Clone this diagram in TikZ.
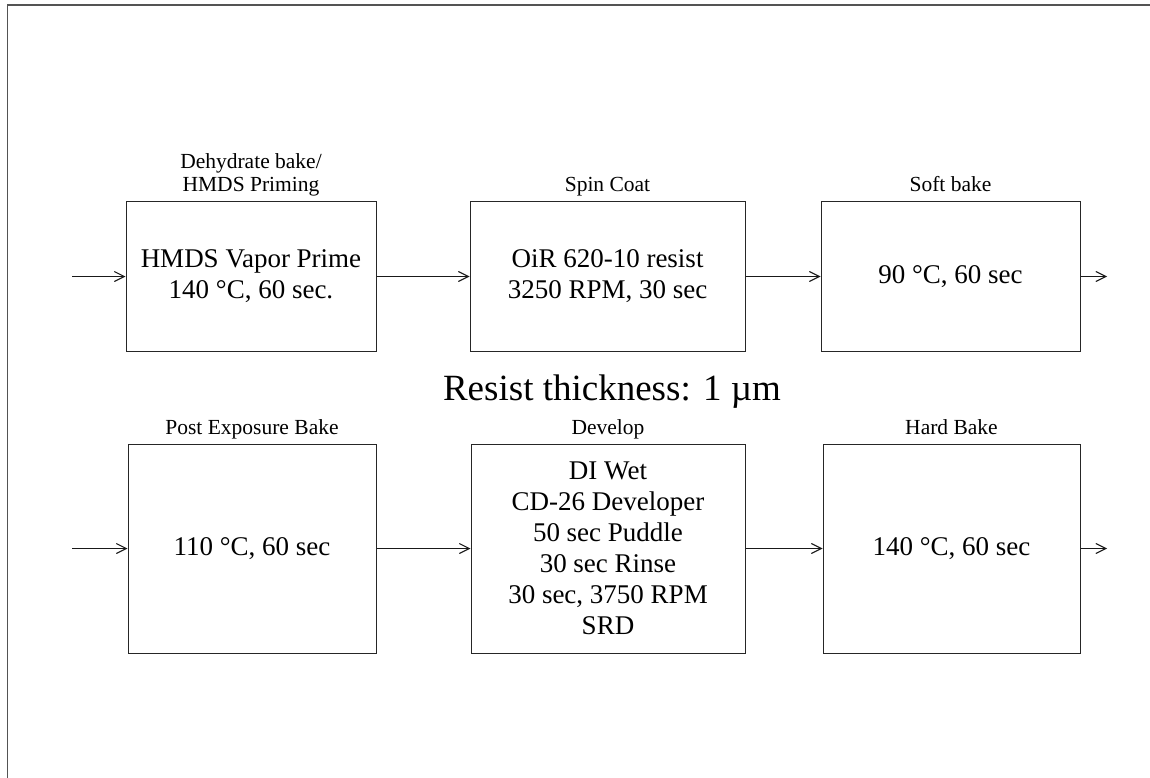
\documentclass[tikz,border=0pt]{standalone}
\usepackage{fontspec}
\setmainfont{Liberation Serif}
\usetikzlibrary{arrows.meta}
\tikzset{
  procbox/.style={draw=black!85, line width=1pt, inner sep=0pt, align=center,
    font=\fontsize{27}{31}\selectfont},
  toprow/.style={procbox, minimum height=150pt},
  botrow/.style={procbox, minimum height=209pt},
  steplabel/.style={inner sep=0pt, anchor=base, font=\fontsize{21.5}{23.5}\selectfont},
  flow/.style={draw=black!90, line width=1.05pt, -{Straight Barb[length=10pt,width=10pt,line width=1.05pt]}},
  framestyle/.style={draw=black!67, line width=1.4pt},
}
\begin{document}
\begin{tikzpicture}[x=1pt,y=-1pt]
\useasboundingbox (0,0) rectangle (1150,778);
% frame (only top and left edges visible)
\draw[framestyle] (7.5,778) -- (7.5,5) -- (1150,5);

% top row
\node[toprow, minimum width=250pt] (b1) at (251,276.5) {HMDS Vapor Prime\\140 °C, 60 sec.};
\node[toprow, minimum width=275pt] (b2) at (607.5,276.5) {OiR 620-10 resist\\3250 RPM, 30 sec};
\node[toprow, minimum width=259pt] (b3) at (950.5,276.5) {90 °C, 60 sec};

\node[steplabel, anchor=south, align=center] (l1) at (251,196.5) {Dehydrate bake/\\HMDS Priming};
\node[steplabel] (l2) at (607.5,191.5) {Spin Coat};
\node[steplabel] (l3) at (950.5,191.5) {Soft bake};

% middle text
\node[inner sep=0pt, anchor=base, font=\fontsize{37}{40}\selectfont] (thick) at (612,400) {Resist thickness: 1 µm};

% bottom row
\node[botrow, minimum width=248pt] (b4) at (252,548.5) {110 °C, 60 sec};
\node[botrow, minimum width=274pt] (b5) at (608,548.5) {DI Wet\\CD-26 Developer\\50 sec Puddle\\30 sec Rinse\\30 sec, 3750 RPM\\SRD};
\node[botrow, minimum width=257pt] (b6) at (951.5,548.5) {140 °C, 60 sec};

\node[steplabel] (l4) at (252,434.5) {Post Exposure Bake};
\node[steplabel] (l5) at (608,434.5) {Develop};
\node[steplabel] (l6) at (951.5,434.5) {Hard Bake};

% connectors
\coordinate (in1) at (72,276.5);
\coordinate (out1) at (1107,276.5);
\coordinate (in2) at (72,548.5);
\coordinate (out2) at (1107,548.5);

\draw[flow] (in1) -- (b1.west);
\draw[flow] (b1.east) -- (b2.west);
\draw[flow] (b2.east) -- (b3.west);
\draw[flow] (b3.east) -- (out1);

\draw[flow] (in2) -- (b4.west);
\draw[flow] (b4.east) -- (b5.west);
\draw[flow] (b5.east) -- (b6.west);
\draw[flow] (b6.east) -- (out2);
\end{tikzpicture}
\end{document}
